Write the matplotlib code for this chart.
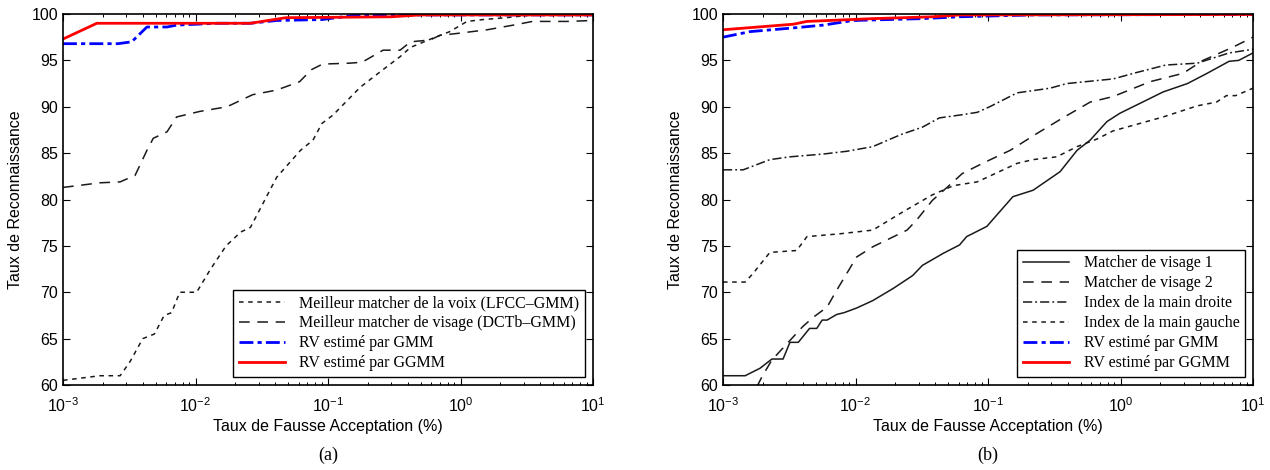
import numpy as np
import matplotlib
matplotlib.use('Agg')
import matplotlib.pyplot as plt

# Donnees (FAR en %, taux en %)

# (a)
far_voix = [1e-3, 1.9e-3, 2.7e-3, 3.2e-3, 4.0e-3, 4.9e-3, 5.8e-3, 6.6e-3, 7.6e-3, 1.02e-2,
            1.3e-2, 1.7e-2, 2.2e-2, 2.6e-2, 4.1e-2, 6.2e-2, 7.7e-2, 9.0e-2, 0.109, 0.175,
            0.26, 0.35, 0.42, 0.62, 0.83, 1.12, 1.48, 2.2, 3.5, 10]
tr_voix = [60.5, 61.0, 61.0, 62.5, 65.0, 65.5, 67.5, 67.8, 70.0, 70.0,
           72.5, 75.0, 76.5, 77.0, 82.4, 85.3, 86.4, 88.2, 89.1, 92.1,
           94.0, 95.4, 96.4, 97.4, 98.1, 99.2, 99.4, 99.6, 99.9, 99.9]

far_visage = [1e-3, 1.9e-3, 2.7e-3, 3.5e-3, 4.3e-3, 4.8e-3, 6.1e-3, 7.2e-3, 1.08e-2, 1.73e-2,
              2.7e-2, 4.1e-2, 6.1e-2, 7.5e-2, 9.1e-2, 0.146, 0.181, 0.26, 0.35, 0.42,
              0.59, 0.70, 0.94, 1.59, 2.5, 3.5, 6.4, 10]
tr_visage = [81.3, 81.8, 81.9, 82.6, 85.3, 86.6, 87.3, 88.9, 89.5, 90.0,
             91.3, 91.8, 92.7, 94.0, 94.6, 94.7, 94.8, 96.1, 96.1, 97.0,
             97.2, 97.7, 97.9, 98.3, 98.8, 99.2, 99.2, 99.3]

far_gmm_a = [1e-3, 2.6e-3, 3.3e-3, 4.3e-3, 6.1e-3, 7.2e-3, 1.45e-2, 2.6e-2, 4.1e-2, 9.0e-2, 0.168, 0.3, 10]
tr_gmm_a = [96.8, 96.8, 97.0, 98.6, 98.6, 98.8, 99.0, 99.0, 99.3, 99.4, 99.9, 99.9, 99.9]

far_ggmm_a = [1e-3, 1.8e-3, 2.6e-2, 4.8e-2, 0.3, 0.5, 10]
tr_ggmm_a = [97.3, 99.0, 99.0, 99.6, 99.7, 99.9, 99.9]

# (b)
far_v1 = [1e-3, 1.47e-3, 1.9e-3, 2.34e-3, 2.84e-3, 3.2e-3, 3.7e-3, 4.5e-3, 5.1e-3, 5.6e-3,
          6.1e-3, 7.2e-3, 8.2e-3, 1.02e-2, 1.35e-2, 1.92e-2, 2.7e-2, 3.2e-2, 4.6e-2, 6.1e-2,
          6.9e-2, 9.8e-2, 0.154, 0.219, 0.35, 0.47, 0.59, 0.79, 0.99, 2.1,
          3.2, 4.5, 6.6, 7.8, 10]
tr_v1 = [61.0, 61.0, 61.8, 62.8, 62.8, 64.6, 64.6, 66.1, 66.1, 67.0,
         67.0, 67.6, 67.8, 68.3, 69.1, 70.4, 71.8, 72.9, 74.2, 75.1,
         76.0, 77.1, 80.3, 81.0, 83.0, 85.3, 86.4, 88.4, 89.3, 91.6,
         92.5, 93.6, 94.9, 95.0, 95.8]

far_v2 = [1.8e-3, 1.97e-3, 2.34e-3, 4.0e-3, 4.8e-3, 6.1e-3, 7.2e-3, 1.02e-2, 1.35e-2, 2.45e-2,
          2.9e-2, 3.8e-2, 4.9e-2, 6.4e-2, 9.1e-2, 0.147, 0.233, 0.367, 0.59, 0.88,
          1.67, 2.96, 4.2, 7.0, 10]
tr_v2 = [59.8, 60.9, 62.7, 66.3, 67.3, 68.4, 70.2, 73.8, 74.9, 76.7,
         77.8, 79.9, 81.3, 82.8, 83.9, 85.3, 87.1, 88.8, 90.5, 91.1,
         92.7, 93.6, 95.0, 96.4, 97.5]

far_droite = [1e-3, 1.42e-3, 2.26e-3, 3.2e-3, 5.7e-3, 8.6e-3, 1.35e-2, 2.2e-2, 3.2e-2, 4.3e-2,
              6.1e-2, 8.3e-2, 0.103, 0.166, 0.294, 0.393, 0.88, 1.33, 2.2, 3.8,
              6.6, 10]
tr_droite = [83.2, 83.2, 84.3, 84.6, 84.9, 85.2, 85.7, 87.0, 87.8, 88.8,
             89.1, 89.4, 90.0, 91.5, 92.0, 92.5, 93.0, 93.7, 94.5, 94.7,
             95.8, 96.2]

far_gauche = [1e-3, 1.47e-3, 1.68e-3, 2.26e-3, 3.6e-3, 4.3e-3, 7.6e-3, 1.35e-2, 2.3e-2, 3.8e-2,
              5.5e-2, 8.3e-2, 0.166, 0.219, 0.33, 0.47, 0.66, 0.88, 2.1, 3.8,
              5.3, 6.3, 7.4, 10]
tr_gauche = [71.1, 71.1, 72.0, 74.3, 74.5, 76.0, 76.3, 76.7, 78.7, 80.5,
             81.5, 81.9, 83.9, 84.3, 84.6, 85.7, 86.5, 87.4, 88.9, 90.1,
             90.5, 91.2, 91.2, 92.0]

far_gmm_b = [1e-3, 1.6e-3, 3.4e-3, 5.7e-3, 9.6e-3, 3.2e-2, 6.1e-2, 0.22, 10]
tr_gmm_b = [97.5, 98.1, 98.5, 98.8, 99.3, 99.5, 99.7, 99.9, 99.95]

far_ggmm_b = [1e-3, 3.4e-3, 4.3e-3, 1.35e-2, 3.8e-2, 6.1e-2, 10]
tr_ggmm_b = [98.3, 98.9, 99.2, 99.5, 99.7, 99.9, 99.95]

plt.rcParams['font.family'] = 'Liberation Sans'
plt.rcParams['mathtext.fontset'] = 'custom'
plt.rcParams['mathtext.rm'] = 'Liberation Sans'
plt.rcParams['mathtext.it'] = 'Liberation Sans:italic'
plt.rcParams['mathtext.sf'] = 'Liberation Sans'

noir = '#1a1a1a'

fig = plt.figure(figsize=(12.7, 4.7), dpi=100)
ax1 = fig.add_axes([63/1270, 85/470, 530/1270, 371/470])
ax2 = fig.add_axes([723/1270, 85/470, 530/1270, 371/470])

ax1.plot(far_voix, tr_voix, color=noir, lw=1.1, dashes=(3, 3), label='Meilleur matcher de la voix (LFCC–GMM)')
ax1.plot(far_visage, tr_visage, color=noir, lw=1.1, dashes=(7, 5), label='Meilleur matcher de visage (DCTb–GMM)')
ax1.plot(far_gmm_a, tr_gmm_a, color='blue', lw=2, dashes=(5, 1.5, 1.5, 1.5), label='RV estimé par GMM')
ax1.plot(far_ggmm_a, tr_ggmm_a, color='red', lw=2, label='RV estimé par GGMM')

ax2.plot(far_v1, tr_v1, color=noir, lw=1.1, label='Matcher de visage 1')
ax2.plot(far_v2, tr_v2, color=noir, lw=1.1, dashes=(7, 5), label='Matcher de visage 2')
ax2.plot(far_droite, tr_droite, color=noir, lw=1.1, dashes=(6, 2, 1.2, 2), label='Index de la main droite')
ax2.plot(far_gauche, tr_gauche, color=noir, lw=1.1, dashes=(3, 3), label='Index de la main gauche')
ax2.plot(far_gmm_b, tr_gmm_b, color='blue', lw=2, dashes=(5, 1.5, 1.5, 1.5), label='RV estimé par GMM')
ax2.plot(far_ggmm_b, tr_ggmm_b, color='red', lw=2, label='RV estimé par GGMM')

for ax, lettre in [(ax1, '(a)'), (ax2, '(b)')]:
    ax.set_xscale('log')
    ax.set_xlim(1e-3, 10)
    ax.set_ylim(60, 100)
    ax.set_yticks(range(60, 101, 5))
    ax.tick_params(which='both', direction='in', top=True, right=True, labelsize=11.5)
    ax.tick_params(which='major', length=5, width=0.8)
    ax.tick_params(which='minor', length=2.5, width=0.7)
    ax.tick_params(axis='x', pad=8)
    for s in ax.spines.values():
        s.set_linewidth(1.2)
    ax.set_xlabel('Taux de Fausse Acceptation (%)', fontsize=11.5, labelpad=3)
    ax.set_ylabel('Taux de Reconnaissance', fontsize=11.5, labelpad=6)
    ax.text(0.5, -0.165, lettre, transform=ax.transAxes, ha='center', va='top',
            fontsize=13, family='Liberation Serif')
    leg = ax.legend(loc='lower right', prop={'family': 'Liberation Serif', 'size': 11.5},
                    fancybox=False, framealpha=1, edgecolor='black', handlelength=2.9,
                    borderpad=0.35, labelspacing=0.25, handletextpad=0.9, borderaxespad=0.5)
    leg.get_frame().set_linewidth(1.0)

fig.savefig('out.png', dpi=100)
